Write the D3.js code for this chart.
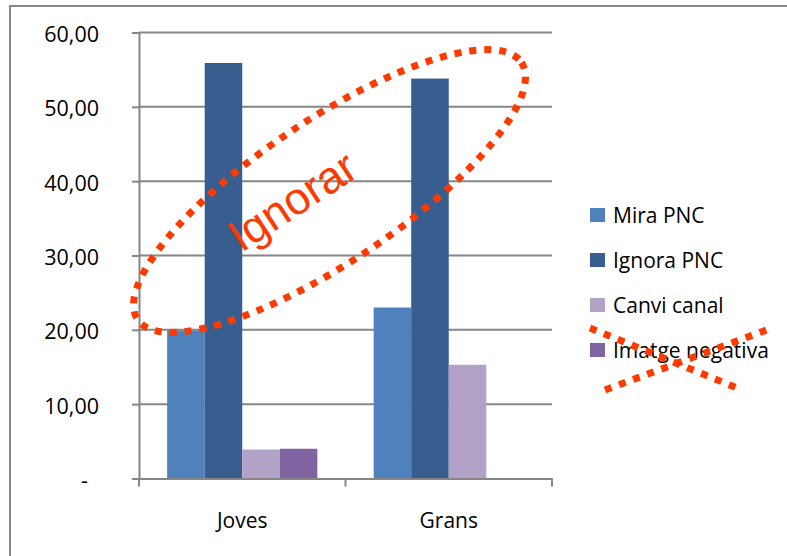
<!DOCTYPE html>
<html>
<head>
<meta charset="utf-8">
<script src="https://cdn.jsdelivr.net/npm/d3@7"></script>
<style>
  html, body { margin: 0; padding: 0; background: #fff; }
  svg { display: block; }
</style>
</head>
<body>
<svg id="chart" width="787" height="556"></svg>
<script>
// Categories and series
const categories = ["Joves", "Grans"];
const seriesNames = ["Mira PNC", "Ignora PNC", "Canvi canal", "Imatge negativa"];
const seriesColors = ["#4F81BD", "#385E8F", "#B3A2C7", "#8064A2"];

// Values per series, one entry per category
const miraPNC = [19.9, 23.0];
const ignoraPNC = [55.9, 53.8];
const canviCanal = [3.9, 15.3];
const imatgeNegativa = [4.0, 0];
const seriesValues = [miraPNC, ignoraPNC, canviCanal, imatgeNegativa];

const yTicks = [0, 10, 20, 30, 40, 50, 60];

const svg = d3.select("#chart");
const W = 787, H = 556;
const labelFont = "'Open Sans', 'Noto Sans', sans-serif";

// Outer chart frame (runs past the right and bottom edges)
svg.append("rect")
  .attr("x", 10).attr("y", 6)
  .attr("width", W).attr("height", H)
  .attr("fill", "none").attr("stroke", "#868686").attr("stroke-width", 2);

const plot = { left: 139, right: 552, top: 32.5, bottom: 478.5 };

const x0 = d3.scaleBand().domain(categories).range([plot.left, plot.right]);
const x1 = d3.scaleBand().domain(seriesNames).range([0, x0.bandwidth()])
  .paddingInner(0).paddingOuter(0.75);
const y = d3.scaleLinear().domain([0, 60]).range([plot.bottom, plot.top]);

const fmt = v => v === 0 ? "-" : d3.format(".2f")(v).replace(".", ",");

// Gridlines
svg.append("g").selectAll("line").data(yTicks.filter(t => t > 0)).join("line")
  .attr("x1", plot.left).attr("x2", plot.right)
  .attr("y1", d => y(d)).attr("y2", d => y(d))
  .attr("stroke", "#868686").attr("stroke-width", 2);

// Bars
const rows = categories.map((c, i) => ({
  cat: c,
  vals: seriesNames.map((s, j) => ({ s, j, v: seriesValues[j][i] }))
}));
svg.append("g").selectAll("g").data(rows).join("g")
  .attr("transform", d => `translate(${x0(d.cat)},0)`)
  .selectAll("rect").data(d => d.vals.filter(e => e.v > 0)).join("rect")
  .attr("x", d => x1(d.s)).attr("width", x1.bandwidth())
  .attr("y", d => y(d.v)).attr("height", d => y(0) - y(d.v))
  .attr("fill", d => seriesColors[d.j]);

// Y axis
const yAxis = svg.append("g")
  .attr("transform", `translate(${plot.left},0)`)
  .call(d3.axisLeft(y).tickValues(yTicks).tickFormat(fmt).tickSize(7).tickPadding(33));
yAxis.select(".domain").attr("stroke", "#868686").attr("stroke-width", 2);
yAxis.selectAll(".tick line").attr("stroke", "#868686").attr("stroke-width", 2);
yAxis.selectAll(".tick text")
  .style("font-family", labelFont).style("font-size", "21.5px")
  .attr("fill", "#000").attr("dy", "0.42em")
  .filter(d => d === 0).attr("dx", -11);

// X axis
const xAxis = svg.append("g")
  .attr("transform", `translate(0,${plot.bottom})`)
  .call(d3.axisBottom(x0).tickSize(0).tickPadding(35));
xAxis.select(".domain").attr("stroke", "#868686").attr("stroke-width", 2);
xAxis.selectAll(".tick text")
  .style("font-family", labelFont).style("font-size", "21px").attr("fill", "#000");
// category boundary ticks
const bounds = [plot.left, x0("Grans"), plot.right];
xAxis.append("g").selectAll("line").data(bounds).join("line")
  .attr("x1", d => d).attr("x2", d => d)
  .attr("y1", 0).attr("y2", 8)
  .attr("stroke", "#868686").attr("stroke-width", 2);

// Legend
const legend = svg.append("g").attr("transform", "translate(590,215)");
const li = legend.selectAll("g").data(seriesNames).join("g")
  .attr("transform", (d, i) => `translate(0,${i * 45})`);
li.append("rect").attr("x", 0).attr("y", -7).attr("width", 15).attr("height", 14)
  .attr("fill", (d, i) => seriesColors[i]);
li.append("text").attr("x", 23).attr("y", 0).attr("dy", "0.36em")
  .style("font-family", labelFont).style("font-size", "21px")
  .attr("fill", "#000").text(d => d);

// Hand-drawn style annotations
const red = "#FF3A00";
svg.append("ellipse")
  .attr("cx", 0).attr("cy", 0).attr("rx", 231).attr("ry", 71)
  .attr("transform", "translate(329.5,191) rotate(-33.8)")
  .attr("fill", "none").attr("stroke", red).attr("stroke-width", 7)
  .attr("stroke-dasharray", "7 8");

svg.append("text")
  .attr("transform", "translate(301,214) rotate(-33.2)")
  .attr("text-anchor", "middle")
  .style("font-family", "'Liberation Sans', Arial, sans-serif")
  .style("font-size", "45px")
  .attr("fill", red)
  .text("Ignorar");

const cross = [[[590, 328], [742, 390]], [[605, 390], [772, 328]]];
svg.append("g").selectAll("line").data(cross).join("line")
  .attr("x1", d => d[0][0]).attr("y1", d => d[0][1])
  .attr("x2", d => d[1][0]).attr("y2", d => d[1][1])
  .attr("stroke", red).attr("stroke-width", 7).attr("stroke-dasharray", "7 8");
</script>
</body>
</html>
